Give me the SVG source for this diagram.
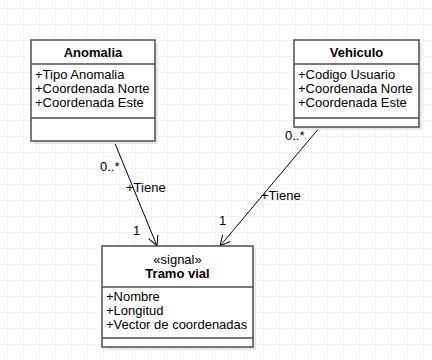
<svg xmlns="http://www.w3.org/2000/svg" width="432" height="360" viewBox="0 0 432 360">
  <defs>
    <pattern id="grid" x="7" y="8" width="16" height="16" patternUnits="userSpaceOnUse">
      <path d="M 0 0 H 16 M 0 0 V 16" fill="none" stroke="#e6e6e6" stroke-width="1"/>
    </pattern>
    <marker id="open-arrow" viewBox="0 0 12 12" refX="11" refY="6" markerWidth="12" markerHeight="12" markerUnits="userSpaceOnUse" orient="auto">
      <path d="M 1 1 L 11 6 L 1 11" fill="none" stroke="#000" stroke-width="1"/>
    </marker>
  </defs>
  <style>
    .shadow { fill: #e8e8e8; stroke: none; }
    .box { fill: #fff; stroke: #4d4d4d; stroke-width: 1.5; }
    .sep { stroke: #4d4d4d; stroke-width: 1.5; }
    .title { font-family: "Liberation Sans", Arial, sans-serif; font-size: 13px; font-weight: bold; fill: #000; text-anchor: middle; }
    .stereo { font-family: "Liberation Sans", Arial, sans-serif; font-size: 13px; fill: #000; text-anchor: middle; }
    .attr { font-family: "Liberation Sans", Arial, sans-serif; font-size: 13px; fill: #000; }
    .lbl { font-family: "Liberation Sans", Arial, sans-serif; font-size: 13px; fill: #000; }
    .edge { fill: none; stroke: #000; stroke-width: 1; marker-end: url(#open-arrow); }
  </style>

  <rect width="432" height="360" fill="#fff"/>
  <rect width="432" height="360" fill="url(#grid)"/>

  <g id="connectors">
    <line class="edge" x1="114" y1="141" x2="157" y2="246"/>
    <line class="edge" x1="320" y1="127" x2="220" y2="246"/>
    <text class="lbl" x="100" y="171">0..*</text>
    <text class="lbl" x="126" y="192">+Tiene</text>
    <text class="lbl" x="133" y="235">1</text>
    <text class="lbl" x="285" y="140">0..*</text>
    <text class="lbl" x="261" y="200">+Tiene</text>
    <text class="lbl" x="219" y="225">1</text>
  </g>

  <g id="anomalia">
    <rect class="shadow" x="34" y="43" width="124" height="101"/>
    <rect class="box" x="31" y="40" width="124" height="101"/>
    <line class="sep" x1="31" y1="64" x2="155" y2="64"/>
    <line class="sep" x1="31" y1="118" x2="155" y2="118"/>
    <text class="title" x="93" y="57">Anomalia</text>
    <text class="attr" x="35" y="79">+Tipo Anomalia</text>
    <text class="attr" x="35" y="93">+Coordenada Norte</text>
    <text class="attr" x="35" y="107">+Coordenada Este</text>
  </g>

  <g id="vehiculo">
    <rect class="shadow" x="297" y="43" width="125" height="87"/>
    <rect class="box" x="294" y="40" width="125" height="87"/>
    <line class="sep" x1="294" y1="64" x2="419" y2="64"/>
    <line class="sep" x1="294" y1="118" x2="419" y2="118"/>
    <text class="title" x="356.5" y="57">Vehiculo</text>
    <text class="attr" x="298" y="79">+Codigo Usuario</text>
    <text class="attr" x="298" y="93">+Coordenada Norte</text>
    <text class="attr" x="298" y="107">+Coordenada Este</text>
  </g>

  <g id="tramo-vial">
    <rect class="shadow" x="105" y="249" width="151" height="101"/>
    <rect class="box" x="102" y="246" width="151" height="101"/>
    <line class="sep" x1="102" y1="287" x2="253" y2="287"/>
    <line class="sep" x1="102" y1="338" x2="253" y2="338"/>
    <text class="stereo" x="177.5" y="264">«signal»</text>
    <text class="title" x="177.5" y="278">Tramo vial</text>
    <text class="attr" x="106" y="301">+Nombre</text>
    <text class="attr" x="106" y="315">+Longitud</text>
    <text class="attr" x="106" y="329">+Vector de coordenadas</text>
  </g>
</svg>
